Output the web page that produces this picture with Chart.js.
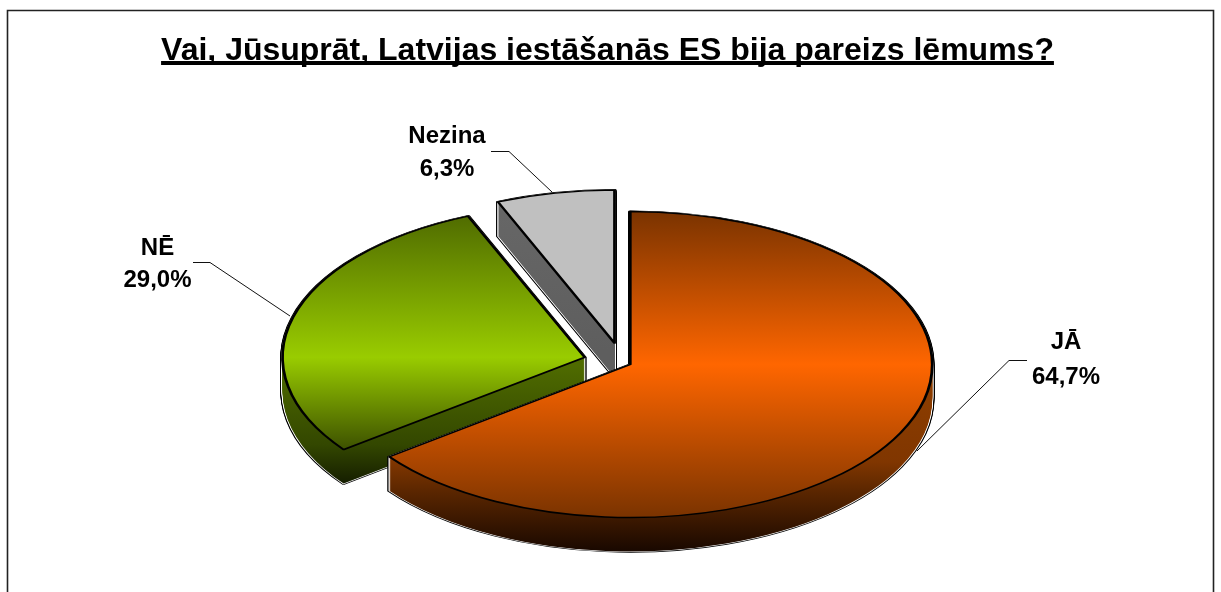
<!DOCTYPE html>
<html>
<head>
<meta charset="utf-8">
<style>
html,body{margin:0;padding:0;background:#fff;overflow:hidden}
#wrap{width:1221px;height:592px;position:relative}
</style>
<script src="https://cdn.jsdelivr.net/npm/chart.js@4"></script>
</head>
<body>
<div id="wrap"><canvas id="c" width="1221" height="592"></canvas></div>
<script>
const titleText = 'Vai, Jūsuprāt, Latvijas iestāšanās ES bija pareizs lēmums?';
const categories = ['JĀ', 'NĒ', 'Nezina'];
const shares = [64.7, 29.0, 6.3];

const explode = [9, 39, 39];
const topStops = [
  ['#7a3300', '#ff6600', '#7a3300'],
  ['#4a6400', '#99cc00', '#000000'],
  ['#c0c0c0', '#c0c0c0', '#c0c0c0']
];
const wallStops = [
  [[400, '#8a3c00'], [460, '#803600'], [490, '#5a2600'], [550, '#180800']],
  [[370, '#4f6b00'], [450, '#334700'], [490, '#141c00']],
  [[200, '#686868'], [370, '#5e5e5e']]
];
const labelLayout = [
  {x: 1066, y: [349, 384], leader: [[1027, 360.5], [1009, 360.5], [917, 451]]},
  {x: 157.5, y: [255, 287], leader: [[193, 262.5], [210, 262.5], [290, 316]]},
  {x: 447, y: [143, 176], leader: [[491, 151.5], [509, 151.5], [552, 192]]}
];
const PIE = {cx: 622.2, cy: 362.5, k: 0.5066, depth: 34};

function project(ctx, arc, i, d) {
  const mid = (arc.startAngle + arc.endAngle) / 2;
  ctx.translate(PIE.cx, PIE.cy + d);
  ctx.scale(1, PIE.k);
  ctx.translate(Math.cos(mid) * explode[i] - arc.x, Math.sin(mid) * explode[i] - arc.y);
}
function drawArc(ctx, arc, i, d, bg, bc, bw) {
  const saved = arc.options;
  arc.options = {
    backgroundColor: bg, borderColor: bc, borderWidth: bw, borderAlign: 'center',
    borderJoinStyle: 'round', offset: 0, spacing: 0, borderRadius: 0,
    circular: true, borderDash: [], borderDashOffset: 0
  };
  ctx.save();
  project(ctx, arc, i, d);
  arc.draw(ctx);
  ctx.restore();
  arc.options = saved;
}

const pie3d = {
  id: 'pie3d',
  beforeDatasetsDraw(chart) {
    const ctx = chart.ctx;
    const arcs = chart.getDatasetMeta(0).data;
    for (let i = arcs.length - 1; i >= 0; i--) {
      const arc = arcs[i];
      const r = arc.outerRadius;
      const N = PIE.depth;
      // outer silhouette: black rim with a white inner hairline
      for (let d = N; d >= 0; d--) drawArc(ctx, arc, i, d, '#000', '#000', 4.4);
      for (let d = N; d >= 0; d--) drawArc(ctx, arc, i, d, '#fff', '#fff', 2);
      // side walls, painted from the bottom layer upward
      for (let d = N; d >= 1; d--) {
        const sy = s => arc.y + (s - PIE.cy - d) / PIE.k;
        const stops = wallStops[i];
        const y0 = sy(stops[0][0]), y1 = sy(stops[stops.length - 1][0]);
        const g = ctx.createLinearGradient(0, y0, 0, y1);
        stops.forEach(s => g.addColorStop((sy(s[0]) - y0) / (y1 - y0), s[1]));
        drawArc(ctx, arc, i, d, g, g, 0);
      }
      // top face
      const t = ctx.createLinearGradient(0, arc.y - r, 0, arc.y + r);
      t.addColorStop(0, topStops[i][0]);
      t.addColorStop(0.5, topStops[i][1]);
      t.addColorStop(1, topStops[i][2]);
      drawArc(ctx, arc, i, 0, t, '#000', 2.8);
    }
    return false;
  }
};

const decorations = {
  id: 'decorations',
  beforeDraw(chart) {
    const ctx = chart.ctx;
    ctx.save();
    ctx.fillStyle = '#fff';
    ctx.fillRect(0, 0, chart.width, chart.height);
    ctx.strokeStyle = '#222';
    ctx.lineWidth = 1.6;
    ctx.beginPath();
    ctx.moveTo(7.5, 600);
    ctx.lineTo(7.5, 10.5);
    ctx.lineTo(1213.5, 10.5);
    ctx.lineTo(1213.5, 600);
    ctx.stroke();
    ctx.restore();
  },
  afterDraw(chart) {
    const ctx = chart.ctx;
    ctx.save();
    // title underline
    const tb = chart.titleBlock;
    ctx.font = "bold 32px 'Liberation Sans'";
    const w = ctx.measureText(titleText).width;
    const mid = tb.left + tb.width / 2;
    ctx.fillStyle = '#000';
    ctx.fillRect(mid - w / 2, 61, w, 4);
    // leaders and labels
    labelLayout.forEach((l, i) => {
      ctx.strokeStyle = '#111';
      ctx.lineWidth = 1;
      ctx.beginPath();
      l.leader.forEach((p, j) => j ? ctx.lineTo(p[0], p[1]) : ctx.moveTo(p[0], p[1]));
      ctx.stroke();
      ctx.fillStyle = '#000';
      ctx.font = "bold 24px 'Liberation Sans'";
      ctx.textAlign = 'center';
      ctx.textBaseline = 'alphabetic';
      ctx.fillText(categories[i], l.x, l.y[0]);
      ctx.fillText(shares[i].toFixed(1).replace('.', ',') + '%', l.x, l.y[1]);
    });
    ctx.restore();
  }
};

new Chart(document.getElementById('c'), {
  type: 'pie',
  data: {
    labels: categories,
    datasets: [{
      data: shares,
      backgroundColor: ['#ff6600', '#99cc00', '#c0c0c0'],
      borderColor: '#000',
      borderWidth: 2
    }]
  },
  options: {
    responsive: false,
    animation: false,
    radius: 302,
    layout: {padding: {right: 6}},
    events: [],
    plugins: {
      legend: {display: false},
      tooltip: {enabled: false},
      title: {
        display: true,
        text: titleText,
        color: '#000',
        font: {family: "'Liberation Sans'", size: 32, weight: 'bold'},
        padding: {top: 32, bottom: 10}
      }
    }
  },
  plugins: [decorations, pie3d]
});
</script>
</body>
</html>
